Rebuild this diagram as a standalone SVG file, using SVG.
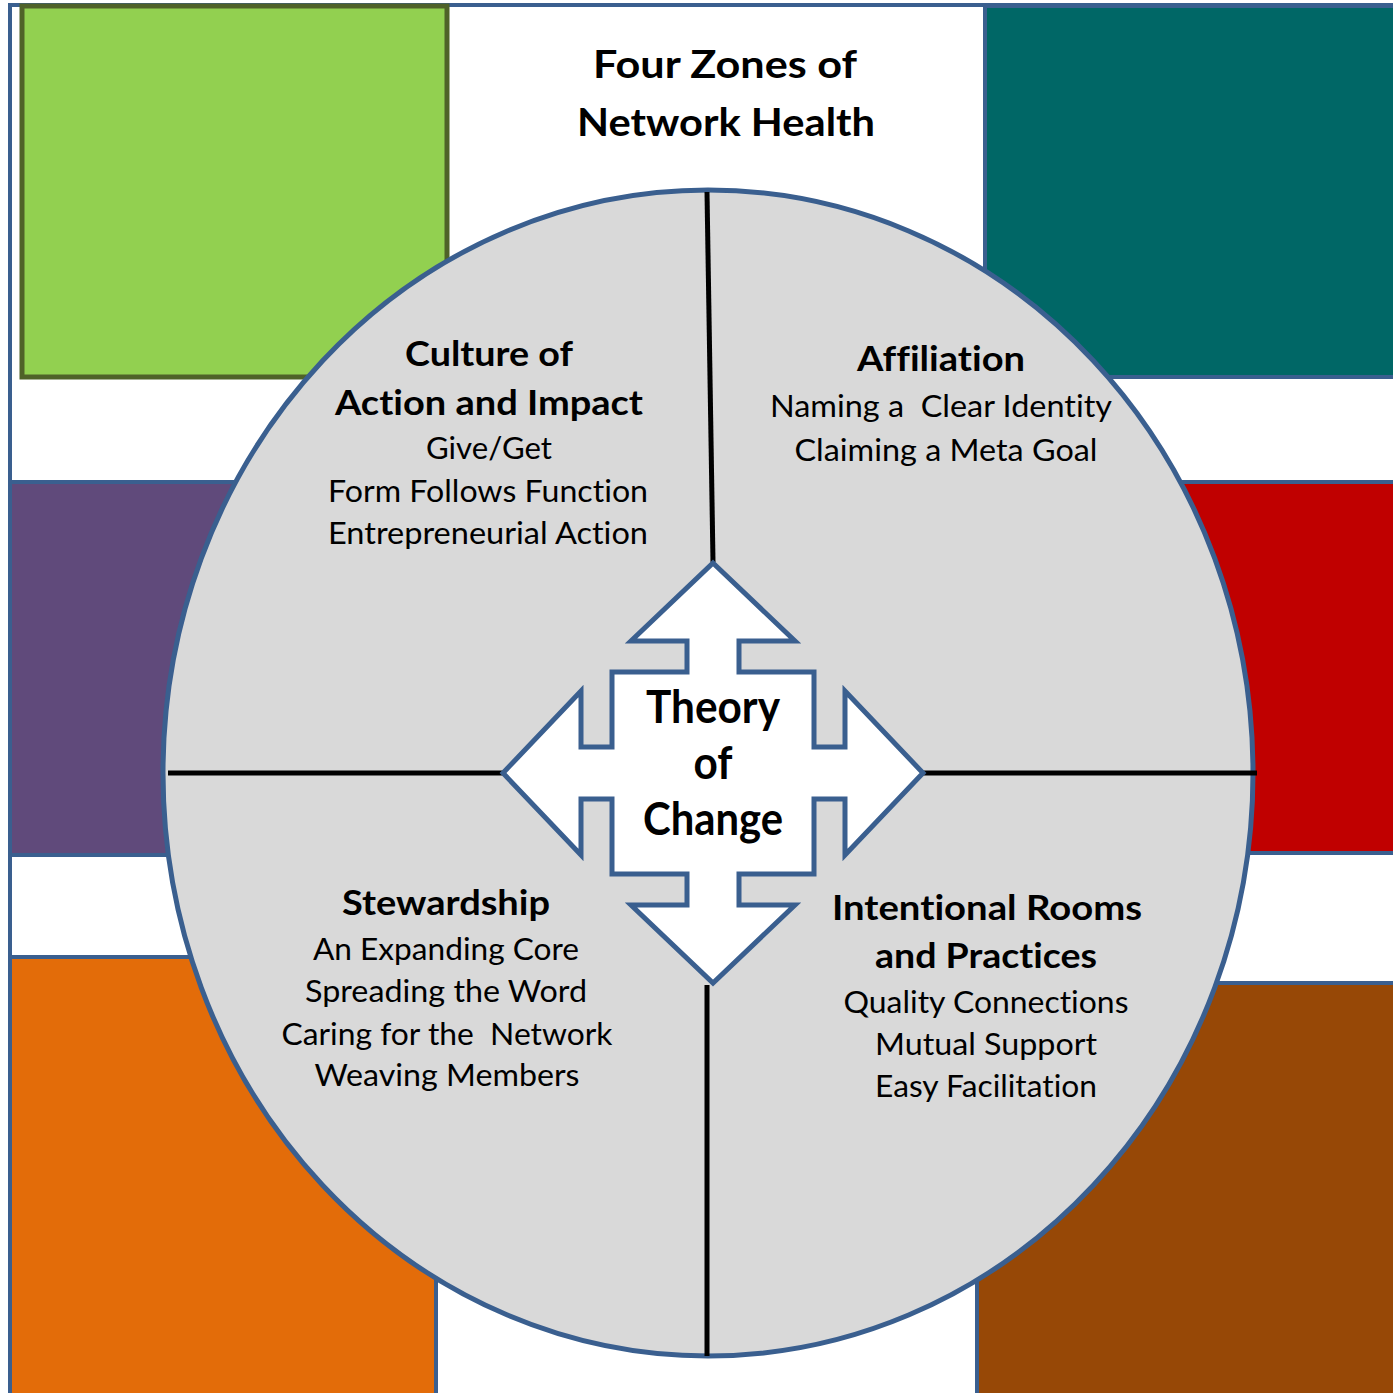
<svg xmlns="http://www.w3.org/2000/svg" width="1393" height="1393" viewBox="0 0 1393 1393">
<style>
.blk{stroke:#3A5F8F;stroke-width:4}
.t{font-family:Lato,"Liberation Sans",sans-serif;fill:#000;text-anchor:middle;font-variant-ligatures:none}
.b{font-weight:700;font-size:35px}
.r{font-weight:400;font-size:30px}
.title{font-weight:700;font-size:39px}
.toc{font-weight:700;font-size:45px}
.div{stroke:#000;stroke-width:5;fill:none}
</style>
<rect x="0" y="0" width="1393" height="1393" fill="#FFFFFF"/>
<rect id="frame" x="10" y="5" width="1400" height="1400" fill="#FFFFFF" class="blk"/>
<g id="blocks">
<rect id="green" x="22" y="6" width="425" height="371" fill="#92D050" stroke="#4F6228" stroke-width="5"/>
<rect id="teal" x="985" y="6" width="420" height="371" fill="#006766" class="blk"/>
<rect id="purple" x="10" y="482" width="400" height="373" fill="#604A7B" class="blk"/>
<rect id="red" x="1000" y="482" width="410" height="371" fill="#C00000" class="blk"/>
<rect id="orange" x="10" y="957" width="426" height="450" fill="#E36C09" class="blk"/>
<rect id="brown" x="977" y="983" width="430" height="420" fill="#974806" class="blk"/>
</g>
<g id="title">
<text class="t title" x="725" y="78" textLength="264" lengthAdjust="spacingAndGlyphs">Four Zones of</text>
<text class="t title" x="726" y="136" textLength="298" lengthAdjust="spacingAndGlyphs">Network Health</text>
</g>
<g id="circle">
<ellipse cx="708" cy="773" rx="545" ry="583" fill="#D9D9D9" stroke="#3A5F8F" stroke-width="5"/>
</g>
<g id="dividers">
<line class="div" x1="707" y1="192" x2="713" y2="562"/>
<line class="div" x1="707" y1="985" x2="707" y2="1356"/>
<line class="div" x1="168" y1="773" x2="503" y2="773"/>
<line class="div" x1="923" y1="773" x2="1257" y2="773"/>
</g>
<g id="culture">
<text class="t b" x="489" y="366" textLength="168" lengthAdjust="spacingAndGlyphs">Culture of</text>
<text class="t b" x="489" y="415" textLength="308" lengthAdjust="spacingAndGlyphs">Action and Impact</text>
<text class="t r" x="489" y="459" textLength="126" lengthAdjust="spacingAndGlyphs">Give/Get</text>
<text class="t r" x="488" y="502" textLength="320" lengthAdjust="spacingAndGlyphs">Form Follows Function</text>
<text class="t r" x="488" y="544" textLength="320" lengthAdjust="spacingAndGlyphs">Entrepreneurial Action</text>
</g>
<g id="affiliation">
<text class="t b" x="941" y="371" textLength="168" lengthAdjust="spacingAndGlyphs">Affiliation</text>
<text class="t r" x="941" y="417" xml:space="preserve" textLength="342" lengthAdjust="spacingAndGlyphs">Naming a  Clear Identity</text>
<text class="t r" x="946" y="461" textLength="303" lengthAdjust="spacingAndGlyphs">Claiming a Meta Goal</text>
</g>
<g id="stewardship">
<text class="t b" x="446" y="915" textLength="208" lengthAdjust="spacingAndGlyphs">Stewardship</text>
<text class="t r" x="446" y="960" textLength="266" lengthAdjust="spacingAndGlyphs">An Expanding Core</text>
<text class="t r" x="446" y="1002" textLength="282" lengthAdjust="spacingAndGlyphs">Spreading the Word</text>
<text class="t r" x="447" y="1045" xml:space="preserve" textLength="331" lengthAdjust="spacingAndGlyphs">Caring for the  Network</text>
<text class="t r" x="447" y="1086" textLength="265" lengthAdjust="spacingAndGlyphs">Weaving Members</text>
</g>
<g id="intentional">
<text class="t b" x="987" y="920" textLength="310" lengthAdjust="spacingAndGlyphs">Intentional Rooms</text>
<text class="t b" x="986" y="968" textLength="222" lengthAdjust="spacingAndGlyphs">and Practices</text>
<text class="t r" x="986" y="1013" textLength="285" lengthAdjust="spacingAndGlyphs">Quality Connections</text>
<text class="t r" x="986" y="1055" textLength="222" lengthAdjust="spacingAndGlyphs">Mutual Support</text>
<text class="t r" x="986" y="1097" textLength="222" lengthAdjust="spacingAndGlyphs">Easy Facilitation</text>
</g>
<g id="theory">
<path d="M713,563 L795,641 L739,641 L739,672 L814,672 L814,747 L845,747 L845,691 L923,773 L845,855 L845,799 L814,799 L814,874 L739,874 L739,905 L795,905 L713,983 L631,905 L687,905 L687,874 L612,874 L612,799 L581,799 L581,855 L503,773 L581,691 L581,747 L612,747 L612,672 L687,672 L687,641 L631,641 Z" fill="#FFFFFF" stroke="#3A5F8F" stroke-width="5"/>
<text class="t toc" x="713" y="723" textLength="134" lengthAdjust="spacingAndGlyphs">Theory</text>
<text class="t toc" x="713" y="779" textLength="39" lengthAdjust="spacingAndGlyphs">of</text>
<text class="t toc" x="713" y="835" textLength="140" lengthAdjust="spacingAndGlyphs">Change</text>
</g>
</svg>
